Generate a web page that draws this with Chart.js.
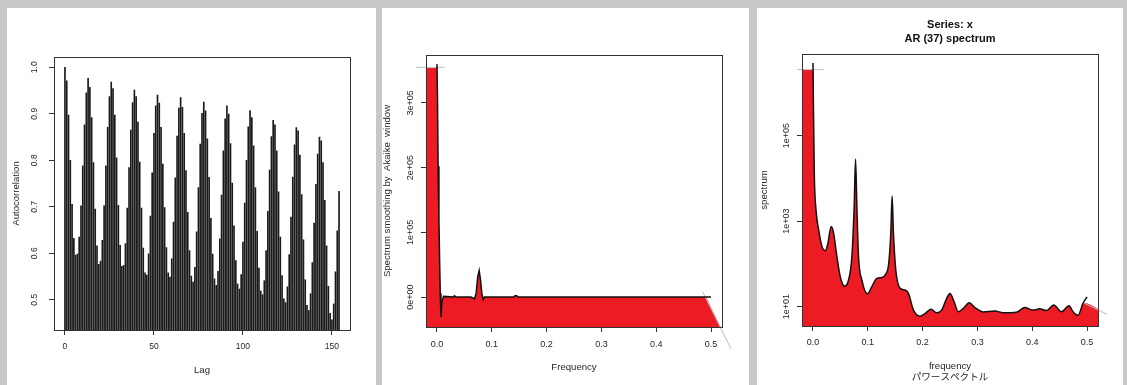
<!DOCTYPE html>
<html>
<head>
<meta charset="utf-8">
<title>ACF and spectra</title>
<script src="https://cdn.jsdelivr.net/npm/chart.js@4.4.1/dist/chart.umd.min.js"></script>
<style>
  html, body { margin: 0; padding: 0; background: #c8c8c8; width: 1127px; height: 385px; overflow: hidden; }
  .panel { position: absolute; top: 8px; height: 377px; background: #fff; }
  #p1 { left: 7px; width: 369px; }
  #p2 { left: 382px; width: 367px; }
  #p3 { left: 757px; width: 366px; }
</style>
</head>
<body>
<div class="panel" id="p1"><canvas id="acfChart" width="369" height="377"></canvas></div>
<div class="panel" id="p2"><canvas id="akaikeChart" width="367" height="377"></canvas></div>
<div class="panel" id="p3"><canvas id="arChart" width="366" height="377"></canvas></div>
<script>
// panel 1: autocorrelation, lags 0..154
const acfValues = [
  1.0, 0.971, 0.897, 0.80, 0.705, 0.632, 0.596, 0.598, 0.635, 0.702,
  0.788, 0.876, 0.945, 0.976, 0.957, 0.892, 0.795, 0.695, 0.616, 0.576,
  0.583, 0.628, 0.702, 0.788, 0.871, 0.937, 0.968, 0.954, 0.897, 0.805,
  0.703, 0.617, 0.572, 0.574, 0.621, 0.697, 0.784, 0.865, 0.924, 0.951,
  0.937, 0.882, 0.796, 0.697, 0.611, 0.558, 0.553, 0.599, 0.680, 0.773,
  0.858, 0.917, 0.940, 0.923, 0.871, 0.792, 0.698, 0.612, 0.558, 0.549,
  0.588, 0.667, 0.762, 0.852, 0.912, 0.935, 0.914, 0.858, 0.778, 0.688,
  0.606, 0.551, 0.538, 0.570, 0.646, 0.741, 0.835, 0.901, 0.925, 0.906,
  0.846, 0.763, 0.675, 0.598, 0.545, 0.531, 0.561, 0.631, 0.725, 0.820,
  0.889, 0.917, 0.899, 0.836, 0.751, 0.659, 0.584, 0.534, 0.523, 0.554,
  0.624, 0.708, 0.800, 0.872, 0.907, 0.892, 0.831, 0.741, 0.647, 0.568,
  0.519, 0.511, 0.541, 0.606, 0.690, 0.779, 0.851, 0.886, 0.876, 0.820,
  0.732, 0.635, 0.552, 0.502, 0.494, 0.528, 0.597, 0.678, 0.764, 0.833,
  0.870, 0.863, 0.811, 0.726, 0.629, 0.543, 0.488, 0.477, 0.513, 0.580,
  0.665, 0.748, 0.813, 0.850, 0.842, 0.795, 0.714, 0.616, 0.529, 0.471,
  0.457, 0.491, 0.560, 0.648, 0.733
];
const acfLags = acfValues.map((v, i) => i);
const lagTicks = [0, 50, 100, 150];
const lagTickLabels = ['0', '50', '100', '150'];
const acfTicks = [0.5, 0.6, 0.7, 0.8, 0.9, 1.0];
const acfTickLabels = ['0.5', '0.6', '0.7', '0.8', '0.9', '1.0'];

const freqTicks = [0, 0.1, 0.2, 0.3, 0.4, 0.5];
const freqTickLabels = ['0.0', '0.1', '0.2', '0.3', '0.4', '0.5'];

// panel 2: spectrum smoothed by Akaike window
const akFreq = [0, 0.001, 0.0021, 0.0036, 0.0048, 0.006, 0.0073, 0.009, 0.012, 0.03,
  0.032, 0.035, 0.062, 0.0655, 0.0685, 0.0715, 0.0745, 0.077, 0.0794, 0.0818,
  0.0842, 0.0867, 0.14, 0.1424, 0.1455, 0.148, 0.5];
const akSpec = [360000, 305000, 202000, 120000, 58000, 6000, -31000, -7000, 1000, 0,
  2000, 0, 0, -1500, -3000, 6000, 32000, 41000, 27000, 6000,
  -4000, 0, 0, 2000, 2000, 0, 0];
const akCapX = [-0.05, 0.0005];
const akCapY = [354000, 354000];
const akEdgeX = [0.4909, 0.5364];
const akEdgeY = [0, -80000];
const akGreyTopX = [-0.0382, 0.0139];
const akGreyTopY = [355000, 355000];
const akGreyDiagX = [0.4848, 0.5364];
const akGreyDiagY = [7700, -80000];
const akTicks = [0, 100000, 200000, 300000];
const akTickLabels = ['0e+00', '1e+05', '2e+05', '3e+05'];

// panel 3: AR(37) spectrum, log scale
const arFreq = [0, 0.0024, 0.0055, 0.0103, 0.0164, 0.0225, 0.0267, 0.0334, 0.0376, 0.0437,
  0.0498, 0.0576, 0.0649, 0.071, 0.0752, 0.0777, 0.0801, 0.0831, 0.0892, 0.0995,
  0.1074, 0.1165, 0.1256, 0.1317, 0.1383, 0.142, 0.1444, 0.1468, 0.1511, 0.159,
  0.168, 0.1742, 0.1833, 0.1954, 0.2045, 0.2154, 0.2257, 0.2348, 0.2439, 0.25,
  0.2573, 0.2652, 0.2743, 0.2852, 0.2955, 0.3107, 0.3319, 0.3471, 0.3714, 0.3865,
  0.4017, 0.4138, 0.426, 0.4393, 0.4533, 0.4672, 0.4745, 0.4836, 0.4927, 0.5];
const arSpec = [5.0e6, 13300, 1860, 630, 257, 204, 282, 750, 525, 148,
  50, 30, 42, 148, 2190, 28200, 2190, 148, 42, 20,
  29.5, 45.7, 48, 55, 105, 525, 3800, 525, 72, 27,
  24.5, 20.4, 8.3, 6.0, 6.9, 8.7, 7.2, 8.3, 15.7, 20.4,
  13.2, 7.6, 9.1, 12.3, 9.5, 7.5, 7.9, 7.2, 7.4, 9.5,
  8.3, 8.9, 8.1, 11, 7.6, 10.5, 7.6, 6.3, 12, 17];
const arCapX = [-0.05, 0.0012];
const arCapY = [3.5e6, 3.5e6];
const arEdgeX = [0.4929, 0.5366];
const arEdgeY = [12.4, 6.6];
const arGreyTopX = [-0.029, 0.0194];
const arGreyTopY = [3.5e6, 3.5e6];
const arTicks = [10, 1000, 100000];
const arTickLabels = ['1e+01', '1e+03', '1e+05'];

const RED = '#ed1c24';
const INK = '#333';
const GREY = '#bdbdbd';

Chart.defaults.font.family = '"Liberation Sans", Arial, "Noto Sans CJK JP", sans-serif';
Chart.defaults.color = '#262626';

function pts(xs, ys) {
  return xs.map((x, i) => ({ x: x, y: ys[i] }));
}

function fixTicks(values) {
  return function (scale) { scale.ticks = values.map(v => ({ value: v })); };
}

function xScale(min, max, values, labels, title, tickSize, tickPad, titleFont, titlePad, height) {
  return {
    type: 'linear', position: 'bottom', min: min, max: max, offset: false,
    afterBuildTicks: fixTicks(values),
    afterFit: s => { s.height = height; },
    grid: { offset: false, drawOnChartArea: false, drawTicks: true, tickLength: 5, tickColor: INK },
    border: { color: INK },
    ticks: { font: { size: tickSize }, padding: tickPad, maxRotation: 0, autoSkip: false, callback: (v, i) => labels[i] },
    title: { display: true, text: title, font: titleFont, padding: { top: 0, bottom: titlePad } }
  };
}

function yScale(type, min, max, values, labels, title, tickSize, tickPad, titlePad, width) {
  return {
    type: type, position: 'left', min: min, max: max,
    afterBuildTicks: fixTicks(values),
    afterFit: s => { s.width = width; },
    grid: { drawOnChartArea: false, drawTicks: true, tickLength: 5, tickColor: INK },
    border: { color: INK },
    ticks: { font: { size: tickSize }, padding: tickPad, minRotation: 90, maxRotation: 90, crossAlign: 'center', autoSkip: false, callback: (v, i) => labels[i] },
    title: { display: true, text: title, font: { size: 9.6 }, padding: { top: titlePad, bottom: 0 } }
  };
}

// R style box round the plot region
const boxPlugin = {
  id: 'box',
  afterDraw(chart) {
    const a = chart.chartArea;
    const ctx = chart.ctx;
    ctx.save();
    ctx.strokeStyle = INK;
    ctx.lineWidth = 1;
    ctx.strokeRect(Math.round(a.left) + 0.5, Math.round(a.top) + 0.5,
      Math.round(a.right - a.left), Math.round(a.bottom - a.top));
    ctx.restore();
  }
};

const common = {
  responsive: false,
  animation: false,
  devicePixelRatio: 1,
  events: [],
  plugins: { legend: { display: false }, tooltip: { enabled: false } }
};

new Chart(document.getElementById('acfChart'), {
  type: 'bar',
  data: {
    datasets: [{
      data: pts(acfLags, acfValues),
      backgroundColor: '#1a1a1a',
      borderWidth: 0,
      barThickness: 1
    }]
  },
  options: Object.assign({}, common, {
    layout: { padding: { top: 49, right: 26, left: 0, bottom: 0 } },
    scales: {
      x: xScale(-6.16, 160.16, lagTicks, lagTickLabels, 'Lag', 8.5, 6.9, { size: 9.6 }, 9.2, 55),
      y: yScale('linear', 0.435, 1.022, acfTicks, acfTickLabels, 'Autocorrelation', 8.5, 8.1, 3.2, 47)
    }
  }),
  plugins: [boxPlugin]
});

new Chart(document.getElementById('akaikeChart'), {
  type: 'line',
  data: {
    datasets: [
      { data: pts(akFreq, akSpec), borderColor: '#111', borderWidth: 1.5, pointRadius: 0, fill: false, order: 0 },
      { data: pts(akGreyTopX, akGreyTopY), borderColor: GREY, borderWidth: 1, pointRadius: 0, fill: false, clip: false, order: 1 },
      { data: pts(akGreyDiagX, akGreyDiagY), borderColor: GREY, borderWidth: 1, pointRadius: 0, fill: false, clip: false, order: 1 },
      {
        data: [].concat(pts(akCapX, akCapY),
          pts(akFreq, akSpec).filter(p => p.x > 0 && p.x < 0.49),
          pts(akEdgeX, akEdgeY)),
        borderWidth: 0, pointRadius: 0, backgroundColor: RED, fill: 'start', order: 2
      }
    ]
  },
  options: Object.assign({}, common, {
    layout: { padding: { top: 47, right: 27, left: 0, bottom: 0 } },
    scales: {
      x: xScale(-0.02, 0.52, freqTicks, freqTickLabels, 'Frequency', 9, 7.6, { size: 9.6 }, 11.5, 58),
      y: yScale('linear', -46300, 374100, akTicks, akTickLabels, 'Spectrum smoothing by  Akaike  window', 9, -1.94, 0, 44)
    }
  }),
  plugins: [boxPlugin]
});

new Chart(document.getElementById('arChart'), {
  type: 'line',
  data: {
    datasets: [
      { data: pts(arFreq, arSpec), borderColor: '#111', borderWidth: 1.5, pointRadius: 0, fill: false, cubicInterpolationMode: 'monotone', order: 0 },
      { data: pts(arGreyTopX, arGreyTopY), borderColor: GREY, borderWidth: 1, pointRadius: 0, fill: false, clip: false, order: 1 },
      { data: pts(arEdgeX, arEdgeY), borderColor: GREY, borderWidth: 1, pointRadius: 0, fill: false, clip: false, order: 1 },
      {
        data: [].concat(pts(arCapX, arCapY),
          pts(arFreq, arSpec).filter(p => p.x > 0 && p.x < 0.49),
          pts(arEdgeX, arEdgeY)),
        borderWidth: 0, pointRadius: 0, backgroundColor: RED, fill: 'start', cubicInterpolationMode: 'monotone', order: 2
      }
    ]
  },
  options: Object.assign({}, common, {
    layout: { padding: { top: 0, right: 25, left: 0, bottom: 0 } },
    plugins: {
      legend: { display: false },
      tooltip: { enabled: false },
      title: {
        display: true,
        fullSize: false,
        text: ['Series: x', 'AR (37) spectrum'],
        color: '#111',
        font: { size: 11, weight: 'bold', lineHeight: '14px' },
        padding: { top: 10, bottom: 8 }
      }
    },
    scales: {
      x: xScale(-0.02, 0.52, freqTicks, freqTickLabels, ['frequency', 'パワースペクトル'], 9, 6.6, { size: 9.6, lineHeight: '11px' }, 1.8, 59),
      y: yScale('logarithmic', 3.53, 8.1e6, arTicks, arTickLabels, 'spectrum', 9, -2.34, 1.2, 45)
    }
  }),
  plugins: [boxPlugin]
});
</script>
</body>
</html>
